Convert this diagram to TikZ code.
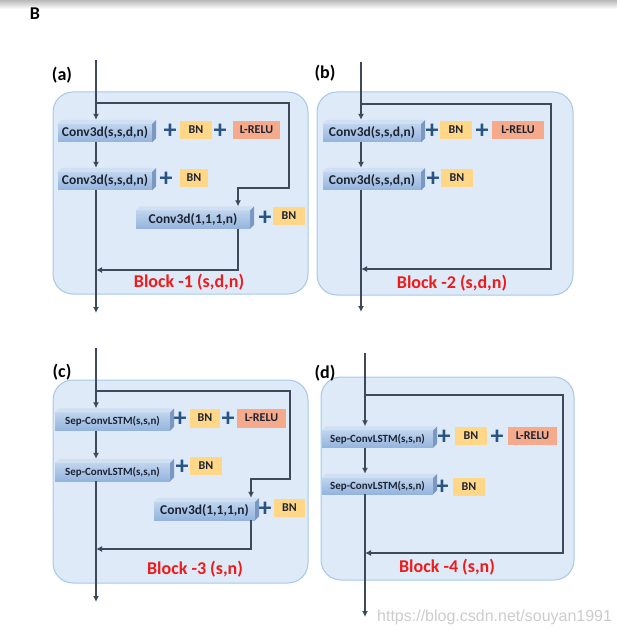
\documentclass[tikz,border=0pt]{standalone}
\usepackage{fontspec}
\setmainfont{Carlito}
\newfontfamily\wmfont{Liberation Sans}
\usetikzlibrary{arrows.meta,positioning,calc}
\definecolor{ResPanel}{RGB}{222,234,247}
\definecolor{ResPanelLine}{RGB}{166,200,232}
\definecolor{ResConvTop}{RGB}{192,212,237}
\definecolor{ResConvBot}{RGB}{148,180,222}
\definecolor{ResConvLid}{RGB}{208,224,243}
\definecolor{ResConvSide}{RGB}{122,152,194}
\definecolor{ResBN}{RGB}{255,215,135}
\definecolor{ResRelu}{RGB}{246,170,140}
\definecolor{ResLine}{RGB}{62,74,92}
\definecolor{ResPlus}{RGB}{40,84,132}
\definecolor{ResRed}{RGB}{240,26,26}
\definecolor{ResText}{RGB}{28,36,52}
\tikzset{
  res/panel/.style={
    draw=ResPanelLine,
    line width=1pt,
    fill=ResPanel,
    rounded corners=20pt
  },
  res/conv/.style={
    top color=ResConvTop,
    bottom color=ResConvBot,
    inner sep=0pt,
    minimum height=18pt,
    text=ResText,
    font=\fontsize{13.5}{13.5}\selectfont\bfseries
  },
  res/lstm/.style={res/conv, font=\fontsize{11}{11}\selectfont\bfseries},
  res/bn/.style={
    fill=ResBN,
    inner sep=0pt,
    minimum width=32pt,
    minimum height=18pt,
    text=ResText,
    font=\fontsize{12}{12}\selectfont\bfseries
  },
  res/relu/.style={res/bn, fill=ResRelu, minimum width=48pt},
  res/plus/.style={inner sep=0pt, text=ResPlus, font=\fontsize{26}{26}\selectfont\bfseries},
  res/tag/.style={text=black, font=\fontsize{18}{18}\selectfont\bfseries},
  res/block/.style={text=ResRed, font=\fontsize{18}{18}\selectfont\bfseries},
  res/line/.style={draw=ResLine, line width=1.8pt},
  res/arrow/.style={res/line, -{Latex[length=6pt,width=6pt]}}
}
\begin{document}
\begin{tikzpicture}[x=1pt,y=-1pt]
  \useasboundingbox (0,0) rectangle (617,636);
  \shade[top color=gray!55, bottom color=white] (0,0) rectangle (617,9);
  \node[res/tag] (fig) at (35,14) {B};

  % panels
  \draw[res/panel] (53,92) rectangle (308,294);
  \draw[res/panel] (317,92) rectangle (573,295);
  \draw[res/panel] (53,380) rectangle (308,583);
  \draw[res/panel] (321,377) rectangle (574,580);
  \node[res/tag] (ta) at (62,75) {(a)};
  \node[res/tag] (tb) at (325,73) {(b)};
  \node[res/tag] (tc) at (62,372) {(c)};
  \node[res/tag] (td) at (325,373) {(d)};

  % (a)
  \node[res/conv, minimum width=94pt] (a1) at (105,133) {Conv3d(s,s,d,n)};
  \node[res/plus] (ap1) at (170,131) {+};
  \node[res/bn] (abn1) at (196,130) {BN};
  \node[res/plus] (ap2) at (220,131) {+};
  \node[res/relu, minimum width=47pt] (arl) at (256.5,130) {L-RELU};
  \node[res/conv, minimum width=94pt] (a2) at (105,181) {Conv3d(s,s,d,n)};
  \node[res/plus] (ap3) at (166,179) {+};
  \node[res/bn, minimum width=28pt] (abn2) at (194,178) {BN};
  \node[res/conv, minimum width=114pt] (a3) at (193,219.5) {Conv3d(1,1,1,n)};
  \node[res/plus] (ap4) at (265,218) {+};
  \node[res/bn] (abn3) at (289,216) {BN};
  \node[res/block] (blka) at (189,282) {Block -1 (s,d,n)};

  % (b)
  \node[res/conv, minimum width=98pt] (b1) at (372,133) {Conv3d(s,s,d,n)};
  \node[res/plus] (bp1) at (432,131) {+};
  \node[res/bn] (bbn1) at (456,130) {BN};
  \node[res/plus] (bp2) at (482,131) {+};
  \node[res/relu, minimum width=52pt] (brl) at (518,130) {L-RELU};
  \node[res/conv, minimum width=98pt] (b2) at (372,181) {Conv3d(s,s,d,n)};
  \node[res/plus] (bp3) at (433,179) {+};
  \node[res/bn] (bbn2) at (457,178) {BN};
  \node[res/block] (blkb) at (452,283) {Block -2 (s,d,n)};

  % (c)
  \node[res/lstm, minimum width=115pt] (c1) at (112.5,421.5) {Sep-ConvLSTM(s,s,n)};
  \node[res/plus] (cp1) at (180,419) {+};
  \node[res/bn, minimum width=30pt, minimum height=19pt] (cbn1) at (205,418) {BN};
  \node[res/plus] (cp2) at (228,419) {+};
  \node[res/relu, minimum width=49pt, minimum height=19pt] (crl) at (261.5,418) {L-RELU};
  \node[res/lstm, minimum width=115pt] (c2) at (112.5,472) {Sep-ConvLSTM(s,s,n)};
  \node[res/plus] (cp3) at (182,467) {+};
  \node[res/bn] (cbn2) at (206,466) {BN};
  \node[res/conv, minimum width=101pt] (c3) at (204.5,511) {Conv3d(1,1,1,n)};
  \node[res/plus] (cp4) at (265,509) {+};
  \node[res/bn, minimum width=31pt] (cbn3) at (289.5,508) {BN};
  \node[res/block] (blkc) at (195,569) {Block -3 (s,n)};

  % (d)
  \node[res/lstm, minimum width=111pt, minimum height=17pt] (d1) at (377.5,439) {Sep-ConvLSTM(s,s,n)};
  \node[res/plus] (dp1) at (444,437) {+};
  \node[res/bn] (dbn1) at (471,436) {BN};
  \node[res/plus] (dp2) at (497,437) {+};
  \node[res/relu, minimum width=49pt] (drl) at (532.5,436) {L-RELU};
  \node[res/lstm, minimum width=111pt, minimum height=16pt] (d2) at (377.5,486) {Sep-ConvLSTM(s,s,n)};
  \node[res/plus] (dp3) at (442,487) {+};
  \node[res/bn] (dbn2) at (469,487) {BN};
  \node[res/block] (blkd) at (447,567) {Block -4 (s,n)};

  % 3d faces of the layer boxes
  \foreach \n in {a1,a2,a3,b1,b2,c1,c2,c3,d1,d2}{
    \fill[ResConvLid] (\n.north west) -- ++(4pt,4pt) -- ([shift={(4pt,4pt)}]\n.north east) -- (\n.north east) -- cycle;
    \fill[ResConvSide] (\n.north east) -- ++(4pt,4pt) -- ([shift={(4pt,4pt)}]\n.south east) -- (\n.south east) -- cycle;
  }

  % connectors (a)
  \coordinate (aIn) at (96,60);
  \coordinate (aOut) at (96,313);
  \coordinate (aSplit) at (96,103);
  \coordinate (aCorner) at (289,188);
  \coordinate (aTap) at (238,188);
  \coordinate (aJoin) at (96,270);
  \draw[res/arrow] (aIn) -- ([yshift=4pt]aIn |- a1.north);
  \draw[res/arrow] (aIn |- a1.south) -- ([yshift=4pt]aIn |- a2.north);
  \draw[res/arrow] (aIn |- a2.south) -- (aOut);
  \draw[res/arrow] (aSplit) -| (aCorner) -- (aTap) -- ([yshift=4pt]aTap |- a3.north);
  \draw[res/arrow] (aTap |- a3.south) |- (aJoin);

  % connectors (b)
  \coordinate (bIn) at (361,62);
  \coordinate (bOut) at (361,312);
  \coordinate (bSplit) at (361,104);
  \coordinate (bCorner) at (551,269);
  \coordinate (bJoin) at (361,269);
  \draw[res/arrow] (bIn) -- ([yshift=4pt]bIn |- b1.north);
  \draw[res/arrow] (bIn |- b1.south) -- ([yshift=4pt]bIn |- b2.north);
  \draw[res/arrow] (bIn |- b2.south) -- (bOut);
  \draw[res/arrow] (bSplit) -| (bCorner) -- (bJoin);

  % connectors (c)
  \coordinate (cIn) at (96,348);
  \coordinate (cOut) at (96,602);
  \coordinate (cSplit) at (96,391);
  \coordinate (cCorner) at (290,479);
  \coordinate (cTap) at (251,479);
  \coordinate (cJoin) at (96,549);
  \draw[res/arrow] (cIn) -- ([yshift=4pt]cIn |- c1.north);
  \draw[res/arrow] (cIn |- c1.south) -- ([yshift=4pt]cIn |- c2.north);
  \draw[res/arrow] (cIn |- c2.south) -- (cOut);
  \draw[res/arrow] (cSplit) -| (cCorner) -- (cTap) -- ([yshift=4pt]cTap |- c3.north);
  \draw[res/arrow] (cTap |- c3.south) |- (cJoin);

  % connectors (d)
  \coordinate (dIn) at (365,353);
  \coordinate (dOut) at (365,617);
  \coordinate (dSplit) at (365,395);
  \coordinate (dCorner) at (563,553);
  \coordinate (dJoin) at (365,553);
  \draw[res/arrow] (dIn) -- ([yshift=4pt]dIn |- d1.north);
  \draw[res/arrow] (dIn |- d1.south) -- ([yshift=4pt]dIn |- d2.north);
  \draw[res/arrow] (dIn |- d2.south) -- (dOut);
  \draw[res/arrow] (dSplit) -| (dCorner) -- (dJoin);

  \node[anchor=west, inner sep=0pt, text=gray!40, font=\wmfont\fontsize{16}{16}\selectfont] (wm) at (377,617) {https://blog.csdn.net/souyan1991};
\end{tikzpicture}
\end{document}
